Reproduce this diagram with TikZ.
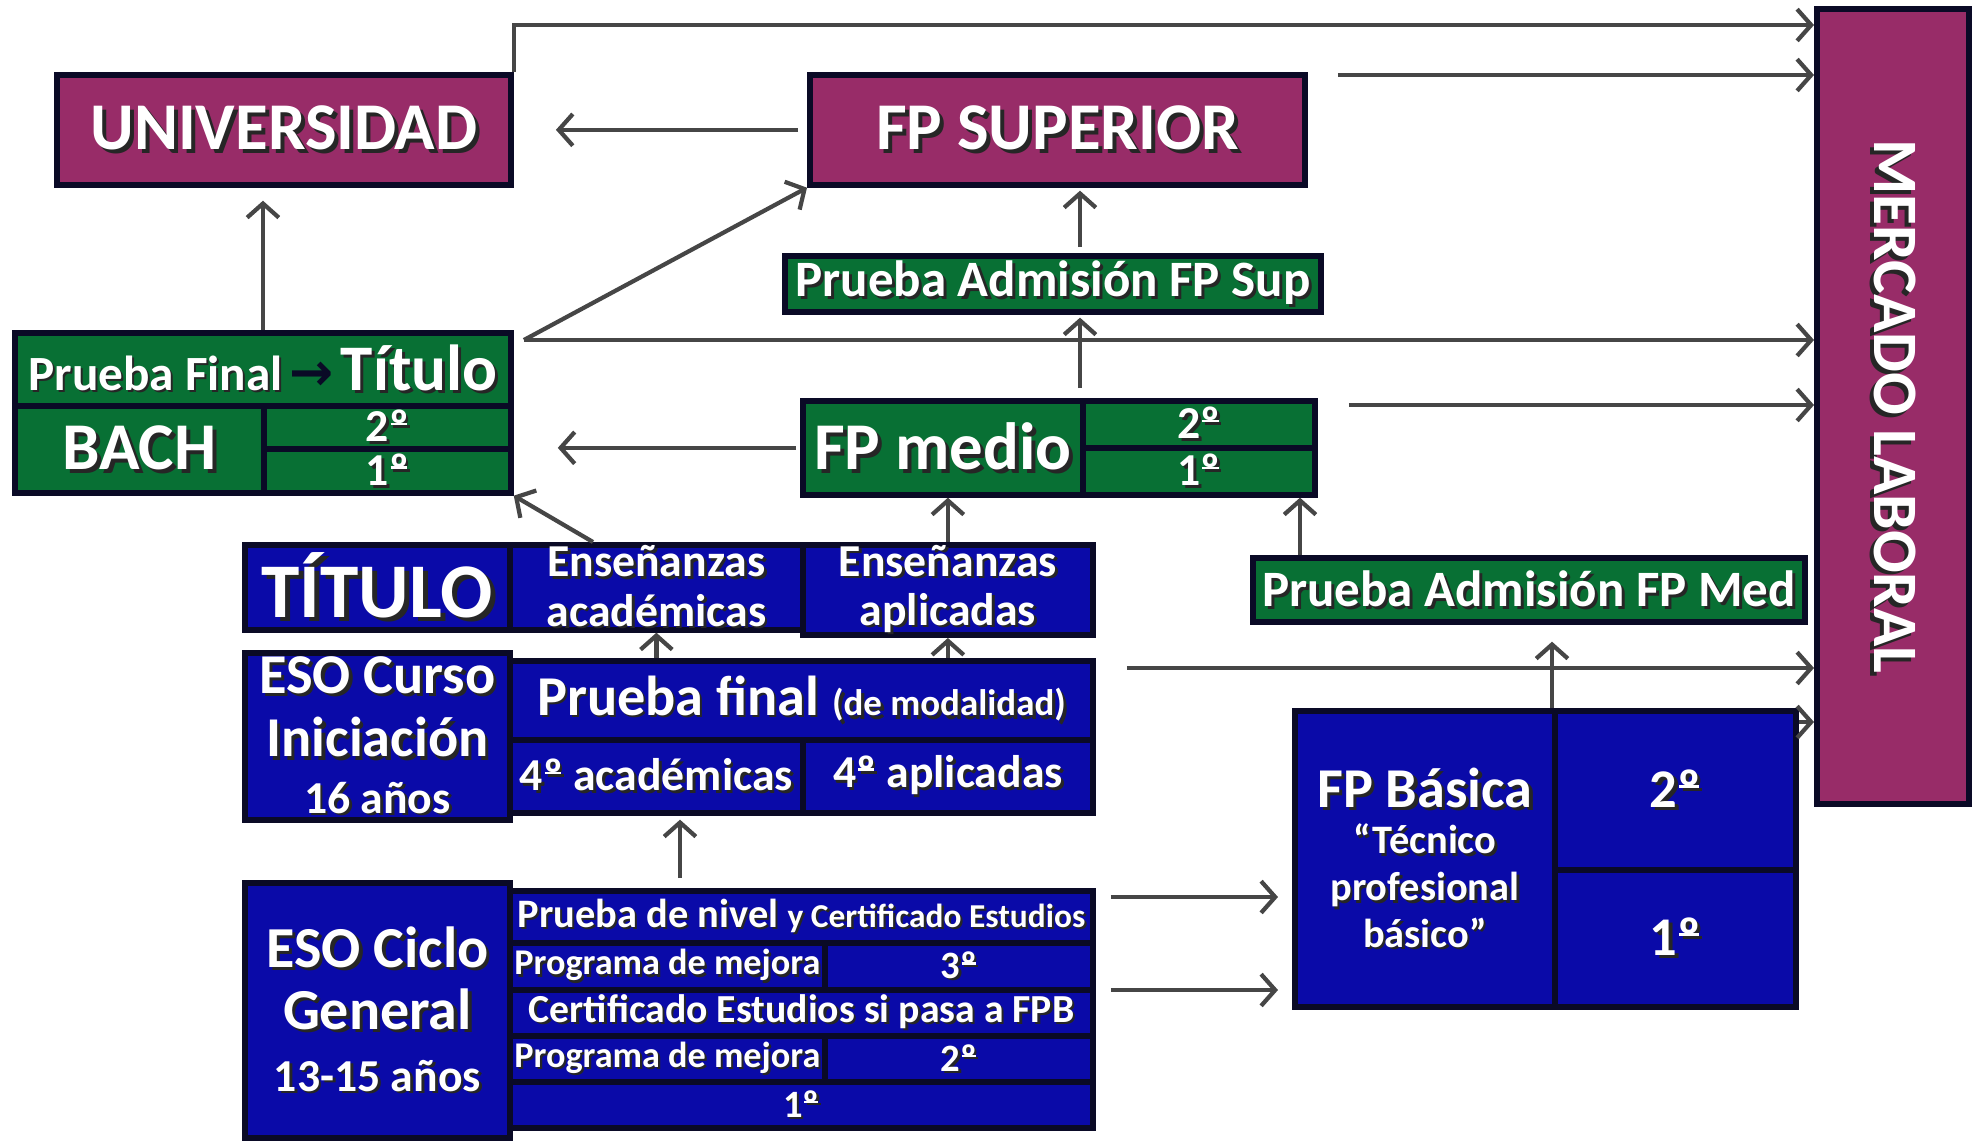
\documentclass[tikz,border=0pt]{standalone}
\usepackage{fontspec}
\setmainfont{Carlito}
\newfontfamily\symfont{DejaVu Sans}
\usetikzlibrary{arrows.meta,calc}

\definecolor{laboral}{RGB}{152,44,104}
\definecolor{bachgreen}{RGB}{8,112,52}
\definecolor{esoblue}{RGB}{10,10,168}
\definecolor{edge}{RGB}{10,10,38}
\definecolor{flecha}{RGB}{70,70,70}

% white text with a dark drop shadow
\newcommand\shd[1]{\makebox[0pt][l]{\kern0.06em\raisebox{-0.06em}{\color{black!85}#1}}#1}
\newcommand\fs[2]{\fontsize{#1}{#2}\selectfont}
% ordinal with its bar
\newcommand\ord{\ooalign{º\cr\hidewidth\rule[0.36em]{0.36em}{0.06em}\hidewidth\cr}}

\tikzset{
  cell/.style={draw=edge, line width=1.6pt, text=white, inner sep=0pt,
    anchor=north west, font=\bfseries, align=center},
  morado/.style={cell, fill=laboral},
  verde/.style={cell, fill=bachgreen},
  azul/.style={cell, fill=esoblue},
  flujo/.style={draw=flecha, line width=1.2pt,
    -{Straight Barb[length=4pt,width=9pt,line width=1.2pt]}},
}

\begin{document}
\begin{tikzpicture}[x=0.01cm,y=-0.01cm]
  \useasboundingbox (0,0) rectangle (1976,1145);

  %%%%% top row
  \node[morado, minimum width=4.54cm, minimum height=1.10cm] (univ) at (54,72) {\fs{19}{22}\shd{UNIVERSIDAD}};
  \node[morado, minimum width=4.95cm, minimum height=1.10cm] (fpsup) at (807,72) {\fs{19}{22}\shd{FP SUPERIOR}};
  \node[morado, minimum width=1.52cm, minimum height=7.95cm] (mercado) at (1814,6) {\rotatebox{-90}{\fs{18}{20}\shd{MERCADO LABORAL}}};
  \node[verde, minimum width=5.36cm, minimum height=0.56cm] (pruebasup) at (782,253) {\fs{14.5}{16}\shd{Prueba Admisión FP Sup}};

  %%%%% bachillerato
  \node[verde, minimum width=4.96cm, minimum height=0.73cm] (bachtop) at (12,330)
    {\shd{\fs{14}{16}Prueba Final}\kern2pt{\fs{15}{16}\symfont\bfseries\color{edge}→}\kern2pt\shd{\fs{18.5}{20}Título}};
  \node[verde, minimum width=2.49cm, minimum height=0.87cm] (bach) at (12,403) {\fs{19}{22}\shd{BACH}};
  \node[verde, minimum width=2.47cm, minimum height=0.43cm] (bach2) at (261,403) {\fs{13}{14}\shd{2\ord}};
  \node[verde, minimum width=2.47cm, minimum height=0.44cm] (bach1) at (261,446) {\fs{13}{14}\shd{1\ord}};

  %%%%% fp medio
  \node[verde, minimum width=2.80cm, minimum height=0.94cm] (fpmedio) at (800,398) {\fs{19}{22}\shd{FP medio}};
  \node[verde, minimum width=2.32cm, minimum height=0.47cm] (fpm2) at (1080,398) {\fs{13}{14}\shd{2\ord}};
  \node[verde, minimum width=2.32cm, minimum height=0.47cm] (fpm1) at (1080,445) {\fs{13}{14}\shd{1\ord}};
  \node[verde, minimum width=5.52cm, minimum height=0.64cm] (pruebamed) at (1250,555) {\fs{14.5}{16}\shd{Prueba Admisión FP Med}};

  %%%%% titulo ESO
  \node[azul, minimum width=2.65cm, minimum height=0.85cm] (titulo) at (242,542) {\fs{22}{24}\shd{TÍTULO}};
  \node[azul, minimum width=2.93cm, minimum height=0.85cm, font={\bfseries\fs{13}{14}}] (acad) at (507,542) {\shd{Enseñanzas}\\\shd{académicas}};
  \node[azul, minimum width=2.90cm, minimum height=0.85cm, font={\bfseries\fs{13}{14}}] (aplic) at (800,542) {\shd{Enseñanzas}\\\shd{aplicadas}};

  %%%%% ESO curso de iniciacion
  \node[azul, minimum width=2.65cm, minimum height=1.67cm, font={\bfseries\fs{16}{18}}] (curso) at (242,650)
    {\shd{ESO Curso}\\\shd{Iniciación}\\[-2pt]{\fs{13}{16}\shd{16 años}}};
  \node[azul, minimum width=5.83cm, minimum height=0.79cm] (pfinal) at (507,658)
    {\shd{\fs{16}{18}Prueba final}~\shd{\fs{10.5}{12}(de modalidad)}};
  \node[azul, minimum width=2.93cm, minimum height=0.73cm] (acad4) at (507,737) {\fs{13}{15}\shd{4\ord{} académicas}};
  \node[azul, minimum width=2.90cm, minimum height=0.73cm] (aplic4) at (800,737) {\fs{13}{15}\shd{4\ord{} aplicadas}};

  %%%%% ESO ciclo general
  \node[azul, minimum width=2.65cm, minimum height=2.55cm, font={\bfseries\fs{16.5}{17.6}}] (ciclo) at (242,880)
    {\shd{ESO Ciclo}\\\shd{General}\\{\fs{13}{17}\shd{13-15 años}}};
  \node[azul, minimum width=5.83cm, minimum height=0.52cm] (nivel) at (507,888)
    {\shd{\fs{11.5}{13}Prueba de nivel} \shd{\fs{9.5}{11}y Certificado Estudios}};
  \node[azul, minimum width=3.15cm, minimum height=0.47cm] (mejora3) at (507,940) {\fs{10.3}{12}\shd{Programa de mejora}};
  \node[azul, minimum width=2.68cm, minimum height=0.47cm] (tercero) at (822,940) {\fs{11}{12}\shd{3\ord}};
  \node[azul, minimum width=5.83cm, minimum height=0.46cm] (cert) at (507,987) {\fs{11.3}{13}\shd{Certificado Estudios si pasa a FPB}};
  \node[azul, minimum width=3.15cm, minimum height=0.46cm] (mejora2) at (507,1033) {\fs{10.3}{12}\shd{Programa de mejora}};
  \node[azul, minimum width=2.68cm, minimum height=0.46cm] (segundo) at (822,1033) {\fs{11}{12}\shd{2\ord}};
  \node[azul, minimum width=5.83cm, minimum height=0.46cm] (primero) at (507,1079) {\fs{11}{12}\shd{1\ord}};

  %%%%% FP basica
  \node[azul, minimum width=2.60cm, minimum height=2.96cm, font={\bfseries\fs{11.5}{13.3}}] (fpbasica) at (1292,708)
    {{\fs{16}{18}\shd{FP Básica}}\\\shd{“Técnico}\\\shd{profesional}\\\shd{básico”}};
  \node[azul, minimum width=2.41cm, minimum height=1.59cm] (fpb2) at (1552,708) {\fs{15.5}{17}\shd{2\ord}};
  \node[azul, minimum width=2.41cm, minimum height=1.37cm] (fpb1) at (1552,867) {\fs{15.5}{17}\shd{1\ord}};

  %%%%% flows
  \draw[flujo] (univ.north east) |- ($(mercado.north west)+(0,19)$);
  \draw[flujo] ($(fpsup.north east)+(30,3)$) coordinate (l2) -- (l2 -| mercado.west);
  \draw[flujo, shorten <=0.09cm, shorten >=0.42cm] (fpsup.west) -- (univ.east);
  \draw[flujo, shorten >=0.13cm] (bachtop.north) -- (bachtop.north |- univ.south);
  \draw[flujo] ($(bachtop.north east)+(10,10)$) coordinate (b0) -- (fpsup.south west);
  \draw[flujo] (b0) -- (b0 -| mercado.west);
  \draw[flujo, shorten <=0.06cm, shorten >=0.03cm] (fpm2.north west |- pruebasup.north) -- (fpm2.north west |- fpsup.south);
  \draw[flujo, shorten <=0.10cm, shorten >=0.03cm] (fpm2.north west) -- (fpm2.north west |- pruebasup.south);
  \draw[flujo, shorten <=0.04cm, shorten >=0.44cm] (fpmedio.west) -- (fpmedio.west -| bach2.east);
  \draw[flujo] ($(fpm2.north east)+(31,7)$) coordinate (l4) -- (l4 -| mercado.west);
  \draw[flujo] ($(acad.north west)+(86,0)$) -- (bach1.south east);
  \draw[flujo] (aplic.north) -- (aplic.north |- fpmedio.south);
  \draw[flujo] ($(pruebamed.north west)+(50,0)$) coordinate (pm) -- (pm |- fpm1.south);
  \draw[flujo] ($(pfinal.north east)+(31,10)$) coordinate (l5) -- (l5 -| mercado.west);
  \draw[flujo] (acad.south |- pfinal.north) -- (acad.south);
  \draw[flujo] (aplic.south |- pfinal.north) -- (aplic.south);
  \draw[flujo, shorten >=0.04cm] ($(nivel.north west)+(173,-10)$) coordinate (nv) -- (nv |- acad4.south);
  \draw[flujo, shorten >=0.17cm] (fpb2.north west) -- (fpb2.north west |- pruebamed.south);
  \draw[flujo] ($(fpb2.north east)+(0,14)$) coordinate (l6) -- (l6 -| mercado.west);
  \draw[flujo, shorten >=0.14cm] ($(nivel.north east)+(15,9)$) coordinate (f1) -- (f1 -| fpbasica.west);
  \draw[flujo, shorten >=0.14cm] ($(cert.north east)+(15,3)$) coordinate (f2) -- (f2 -| fpbasica.west);
\end{tikzpicture}
\end{document}
